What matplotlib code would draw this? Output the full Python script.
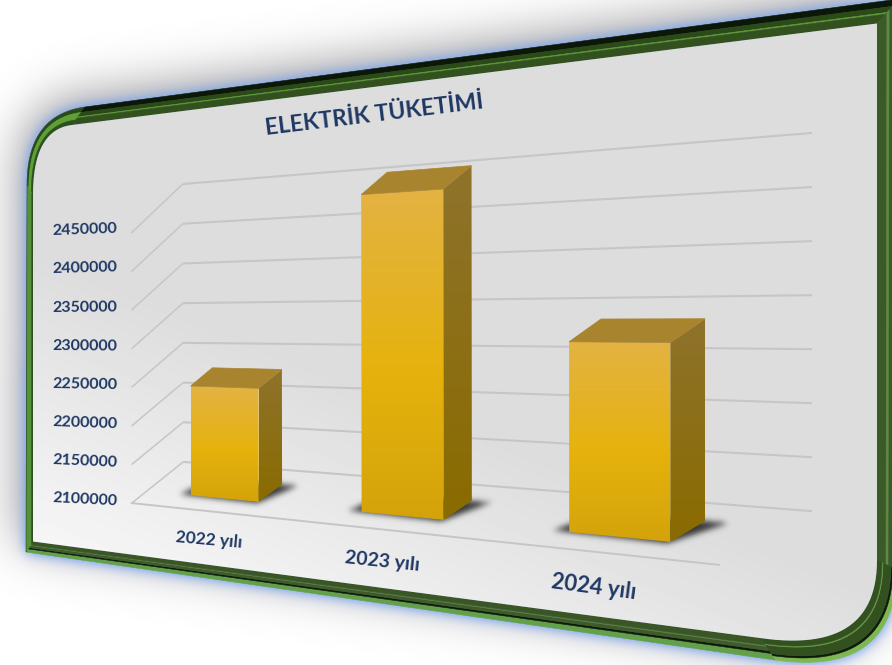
import numpy as np
import matplotlib
matplotlib.use("Agg")
import matplotlib.pyplot as plt
from matplotlib.path import Path
from matplotlib.patches import PathPatch

# Data
title = "ELEKTRİK TÜKETİMİ"
categories = ["2022 yılı", "2023 yılı", "2024 yılı"]
consumption = [2237000, 2462000, 2296000]
value_ticks = [2100000, 2150000, 2200000, 2250000, 2300000, 2350000, 2400000, 2450000]

W, H = 892, 665
PAD = 60
NAVY = "#1f3864"

plt.rcParams["font.family"] = ["Lato", "DejaVu Sans"]
fig = plt.figure(figsize=(W / 100, H / 100), dpi=100)
ax = fig.add_axes([0, 0, 1, 1])
ax.set_facecolor("white")


# perspective of the chart box: x in categories, v in ticks above the floor, z depth
def v_units(value):
    return (value - value_ticks[0]) / (value_ticks[1] - value_ticks[0])


box_points = [(0, 0, 0), (0, 7, 0), (0, 0, 1), (0, 7, 1), (3, 0, 1), (3, 7, 1), (3, 0, 0)]
screen_points = [(132, 503), (131, 233), (183, 462), (183, 184), (812, 511), (812, 133), (719, 565)]
rows = []
for (bx, bv, bz), (sx, sy) in zip(box_points, screen_points):
    rows.append([bx, bv, bz, 1, 0, 0, 0, 0, -sx * bx, -sx * bv, -sx * bz, -sx])
    rows.append([0, 0, 0, 0, bx, bv, bz, 1, -sy * bx, -sy * bv, -sy * bz, -sy])
P = np.linalg.svd(np.array(rows, dtype=float))[2][-1].reshape(3, 4)


def project(x, v, z):
    p = P @ np.array([x, v, z, 1.0])
    return p[0] / p[2], p[1] / p[2]


# soft shadows
gx, gy = np.meshgrid(np.arange(-PAD, W + PAD) + 0.5, np.arange(-PAD, H + PAD) + 0.5)
grid = np.column_stack([gx.ravel(), gy.ravel()])


def blurred(poly, sigma):
    mask = Path(poly).contains_points(grid).reshape(gx.shape).astype(float)
    fy = np.fft.fftfreq(mask.shape[0])[:, None]
    fx = np.fft.rfftfreq(mask.shape[1])[None, :]
    kernel = np.exp(-2 * (np.pi * sigma) ** 2 * (fx ** 2 + fy ** 2))
    out = np.fft.irfft2(np.fft.rfft2(mask) * kernel, s=mask.shape)
    return np.clip(out[PAD:-PAD, PAD:-PAD], 0, 1)


def soft(poly, sigma, rgb, alpha, zorder, gain=1.0):
    a = np.clip(blurred(poly, sigma) * gain, 0, 1) * alpha
    img = np.dstack([np.full(a.shape, c) for c in rgb] + [a])
    ax.imshow(img, extent=(0, W, H, 0), aspect="auto", zorder=zorder, interpolation="bilinear")


def curve(p0, c, p1, n=30):
    t = np.linspace(0, 1, n)[:, None]
    return (1 - t) ** 2 * np.array(p0) + 2 * t * (1 - t) * np.array(c) + t ** 2 * np.array(p1)


def line(p0, p1, n=20):
    t = np.linspace(0, 1, n)[:, None]
    return (1 - t) * np.array(p0) + t * np.array(p1)


def outline(pts):
    tl0, tl1, tl2, tr, br0, br1, br2, bl = pts
    parts = [curve(tl0, tl1, tl2), line(tl2, tr), line(tr, br0), curve(br0, br1, br2), line(br2, bl), line(bl, tl0)]
    return parts


outer = outline([(27, 185), (27, 115), (85, 107), (899, -1), (897, 570), (895, 677), (775, 660), (26, 552)])
inner = outline([(33, 195), (33, 129.5), (72, 125), (877, 23.5), (877, 560), (877, 655), (760, 638), (33, 541.5)])
outer_poly = np.vstack(outer)
inner_poly = np.vstack(inner)

soft(outer_poly + [-8, -10], 24, (0.38, 0.38, 0.40), 0.62, 1)
soft(outer_poly, 6, (0.50, 0.66, 0.95), 0.9, 2, gain=1.5)

band_styles = [
    [(0, .3, "#2a4a1a"), (.3, .72, "#5da033"), (.72, 1, "#2e4f1e")],
    [(0, .3, "#0b1707"), (.3, .55, "#2b4a18"), (.55, .62, "#5f9a35"), (.62, 1, "#33511f")],
    [(0, 1, "#3a5a28"), (.45, .55, "#5f8a45")],
    [(0, .2, "#7db84f"), (.2, .3, "#101a0a"), (.3, .7, "#33511f"), (.7, .75, "#6a9a4a"), (.75, 1, "#33511f")],
    [(0, .3, "#63a04a"), (.3, .42, "#101a0a"), (.42, .62, "#3e5c2a"), (.62, .68, "#5c7f44"), (.68, 1, "#3a5626")],
    [(0, .1, "#2a4a1a"), (.1, .8, "#54923a"), (.8, 1, "#2e4f1e")],
]
for part_o, part_i, bands in zip(outer, inner, band_styles):
    for t0, t1, color in bands:
        a = part_o + (part_i - part_o) * t0
        b = part_o + (part_i - part_o) * t1
        ax.fill(*np.vstack([a, b[::-1]]).T, color=color, lw=0.4, zorder=3)

# panel fill, lighter toward the lower left
px, py = np.meshgrid(np.arange(W) + 0.5, np.arange(H) + 0.5)
shade = np.clip((py - 0.13 * px - 250) / 300 - (px - 30) / 1100, 0, 1)
panel = ax.imshow(0.865 + 0.105 * shade, extent=(0, W, H, 0), aspect="auto", cmap="gray", vmin=0, vmax=1, zorder=4)
panel.set_clip_path(PathPatch(Path(inner_poly), transform=ax.transData))

# grid
GRID = "#c6c6c6"
for tick in value_ticks:
    v = v_units(tick)
    back = [project(0, v, 1), project(3, v, 1)]
    side = [project(0, v, 0), project(0, v, 1)]
    ax.plot(*zip(*back), color=GRID, lw=1.5, zorder=5, solid_capstyle="butt")
    ax.plot(*zip(*side), color=GRID, lw=1.1, zorder=5, solid_capstyle="butt")
ax.plot(*zip(project(0, 0, 0), project(3, 0, 0)), color=GRID, lw=1.4, zorder=5)

# bars
bar_width = 0.42
z0, z1 = 0.3, 0.7
for i, value in enumerate(consumption):
    x0, x1 = i + 0.5 - bar_width / 2, i + 0.5 + bar_width / 2
    v = v_units(value)
    floor = [project(x0 - 0.07, 0, z0), project(x1 + 0.0, 0, z0 - 0.03), project(x1 + 0.09, 0, z1), project(x0, 0, z1)]
    soft(np.array(floor), 3.0, (0.18, 0.18, 0.18), 0.95, 6)
    front = np.array([project(x0, 0, z0), project(x1, 0, z0), project(x1, v, z0), project(x0, v, z0)])
    side = np.array([project(x1, 0, z0), project(x1, 0, z1), project(x1, v, z1), project(x1, v, z0)])
    top = np.array([project(x0, v, z0), project(x1, v, z0), project(x1, v, z1), project(x0, v, z1)])

    # front face gradient runs over the height of this bar
    ymin, ymax = front[:, 1].min(), front[:, 1].max()
    stops = np.array([[0.89, 0.70, 0.26], [0.90, 0.70, 0.05], [0.83, 0.64, 0.04]])
    g = np.linspace(0, 1, 64)
    ramp = np.dstack([np.interp(g, [0, 0.55, 1], stops[:, c])[:, None] for c in range(3)])
    face = ax.imshow(ramp, extent=(front[:, 0].min(), front[:, 0].max(), ymax, ymin), aspect="auto", zorder=7)
    face.set_clip_path(PathPatch(Path(front), transform=ax.transData))

    side_stops = np.array([[0.56, 0.45, 0.17], [0.54, 0.42, 0.0]])
    ramp = np.dstack([np.interp(g, [0, 1], side_stops[:, c])[:, None] for c in range(3)])
    sface = ax.imshow(ramp, extent=(side[:, 0].min(), side[:, 0].max(), side[:, 1].max(), side[:, 1].min()), aspect="auto", zorder=7)
    sface.set_clip_path(PathPatch(Path(side), transform=ax.transData))

    ax.fill(*top.T, color="#a8842f", lw=0.5, zorder=7)

# texts
tick_rot = [-3, -2.5, -2, -1, -0.5, 0.5, 1.5, 2]
for tick, rot in zip(value_ticks, tick_rot):
    x, y = project(0, v_units(tick), 0)
    ax.text(x - 47, y - 3, str(tick), color=NAVY, fontsize=11.5, fontweight="bold", rotation=rot,
            rotation_mode="anchor", ha="center", va="center", zorder=8)

cat_pos = [(209, 540), (382, 561), (594, 587)]
cat_size = [12.5, 14, 16]
cat_rot = [-5, -6, -7.5]
for label, pos, size, rot in zip(categories, cat_pos, cat_size, cat_rot):
    ax.text(pos[0], pos[1], label, color=NAVY, fontsize=size, fontweight="bold", rotation=rot,
            rotation_mode="anchor", ha="center", va="center", zorder=8)

ax.text(374, 115, title, color=NAVY, fontsize=16.5, fontweight="bold", rotation=7,
        rotation_mode="anchor", ha="center", va="center", zorder=8)

ax.set_xlim(0, W)
ax.set_ylim(H, 0)
ax.axis("off")
fig.savefig("out.png", dpi=100, facecolor="white")
